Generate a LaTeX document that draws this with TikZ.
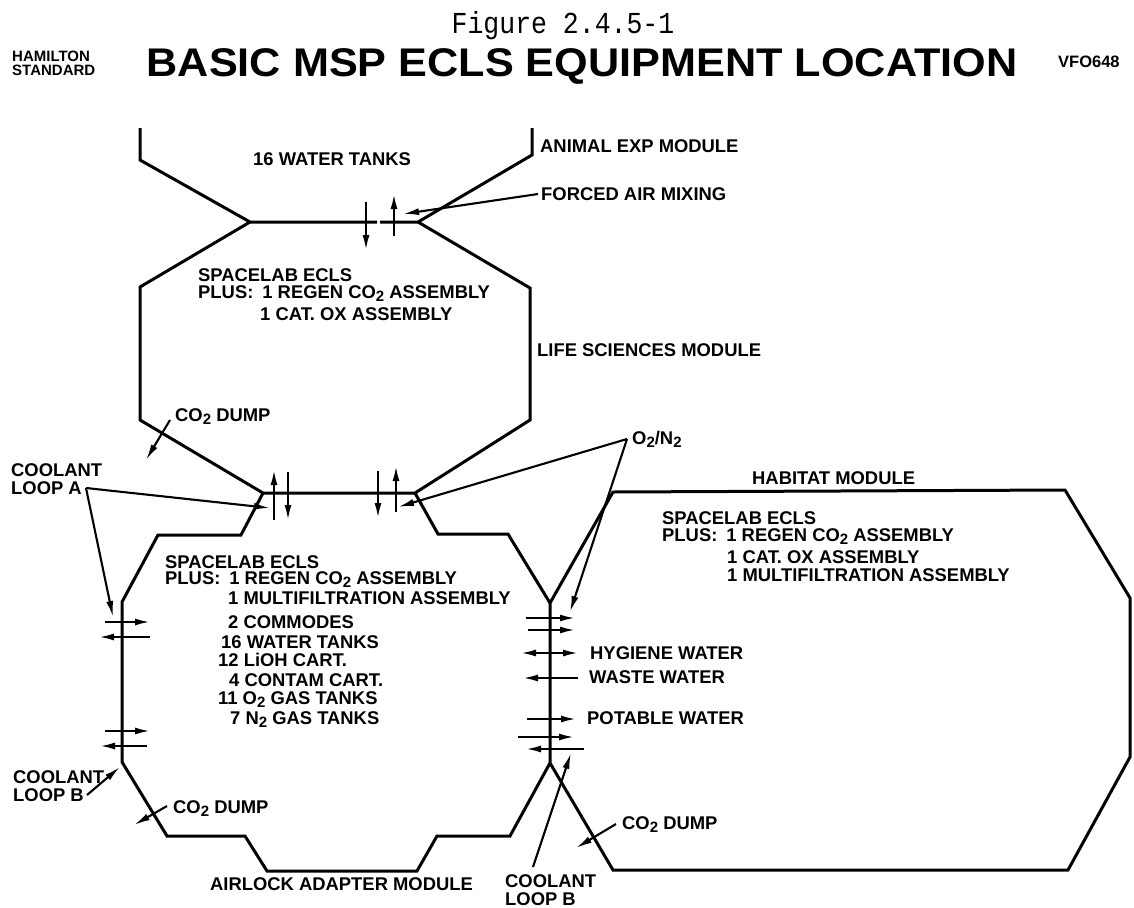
\documentclass[tikz,border=0pt]{standalone}
\usepackage{fontspec}
\setmainfont{Liberation Sans}
\newfontfamily\monof{Liberation Mono}
\usetikzlibrary{arrows.meta}
\tikzset{
 wall/.style={line width=3pt,line join=miter},
 lead/.style={line width=2.1pt,-{Latex[length=16pt,width=7pt]}},
 flow/.style={line width=2.1pt,-{Latex[length=15pt,width=7pt]}},
 both/.style={line width=2.1pt,{Latex[length=15pt,width=7pt]}-{Latex[length=15pt,width=7pt]}},
 lab/.style={font=\fontsize{18.4}{18}\selectfont\bfseries,anchor=west,inner sep=0pt}
}
\newcommand{\sbs}[1]{\raisebox{-3pt}{\fontsize{15}{15}\selectfont #1}}
\begin{document}
\begin{tikzpicture}[x=1pt,y=-1pt]
\useasboundingbox (0,0) rectangle (1134,907);
\fill[white] (0,0) rectangle (1134,907);
% titles
\node[font=\monof\fontsize{26.5}{30}\selectfont,inner sep=0pt] (fig) at (563,26) {\scalebox{1}[1.15]{Figure 2.4.5-1}};
\node[font=\fontsize{40}{42}\selectfont\bfseries,inner sep=0pt] (title) at (582,66) {\scalebox{1.08}[1]{BASIC MSP ECLS EQUIPMENT LOCATION}};
\node[font=\fontsize{15}{15}\selectfont\bfseries,align=left,inner sep=0pt,anchor=west] (ham) at (12,63) {HAMILTON\\[-1pt]STANDARD};
\node[font=\fontsize{16.5}{16}\selectfont\bfseries,inner sep=0pt,anchor=west] (vfo) at (1058,62) {VFO648};
% module outlines
\draw[wall] (140,128) -- (140,160) -- (250,222) -- (377,222);
\draw[wall] (380,222) -- (418,222) -- (532,155) -- (532,128);
\draw[wall] (250,222) -- (140,287) -- (140,420) -- (263,493) -- (415,493) -- (530,420) -- (530,288) -- (418,222);
\draw[wall] (263,493) -- (241,535) -- (158,535) -- (122,602) -- (122,762) -- (167,836) -- (245,836) -- (267,871) -- (417,871) -- (437,836) -- (510,836) -- (550,763);
\draw[wall] (415,493) -- (438,534) -- (508,534) -- (550,603) -- (550,763) -- (613,870) -- (1068,870) -- (1130,757) -- (1130,598) -- (1065,490) -- (613,492) -- (550,603);
% labels
\node[lab] (tanks) at (253,159) {16 WATER TANKS};
\node[lab] (animal) at (540,146) {ANIMAL EXP MODULE};
\node[lab] (forced) at (541,194) {FORCED AIR MIXING};
\node[lab] (life) at (537,350) {LIFE SCIENCES MODULE};
\node[lab] (u1) at (198,275) {SPACELAB ECLS};
\node[lab] (u2) at (198,294) {PLUS:\hspace{9pt}1 REGEN CO\sbs{2} ASSEMBLY};
\node[lab] (u3) at (260,314) {1 CAT. OX ASSEMBLY};
\node[lab] (dumpu) at (175,417) {CO\sbs{2} DUMP};
\node[lab] (o2) at (632,439) {O\sbs{2}/N\sbs{2}};
\node[lab] (hab) at (752,478) {HABITAT MODULE};
\node[lab] (r1) at (662,518) {SPACELAB ECLS};
\node[lab] (r2) at (662,537) {PLUS:\hspace{9pt}1 REGEN CO\sbs{2} ASSEMBLY};
\node[lab] (r3) at (727,557) {1 CAT. OX ASSEMBLY};
\node[lab] (r4) at (727,575) {1 MULTIFILTRATION ASSEMBLY};
\node[lab,align=left] (cla) at (11,479) {COOLANT\\LOOP A};
\node[lab] (l1) at (165,562) {SPACELAB ECLS};
\node[lab] (l2) at (165,580) {PLUS:\hspace{9pt}1 REGEN CO\sbs{2} ASSEMBLY};
\node[lab] (l3) at (228,598) {1 MULTIFILTRATION ASSEMBLY};
\node[lab] (l4) at (228,622) {2 COMMODES};
\node[lab] (l5) at (221,642) {16 WATER TANKS};
\node[lab] (l6) at (218,660) {12 LiOH CART.};
\node[lab] (l7) at (229,680) {4 CONTAM CART.};
\node[lab] (l8) at (218,700) {11 O\sbs{2} GAS TANKS};
\node[lab] (l9) at (230,720) {7 N\sbs{2} GAS TANKS};
\node[lab] (hyg) at (590,653) {HYGIENE WATER};
\node[lab] (waste) at (589,677) {WASTE WATER};
\node[lab] (pot) at (587,718) {POTABLE WATER};
\node[lab] (dumpr) at (622,825) {CO\sbs{2} DUMP};
\node[lab,align=left] (clbr) at (505,890) {COOLANT\\LOOP B};
\node[lab,align=left] (clbl) at (13,786) {COOLANT\\LOOP B};
\node[lab] (dumpl) at (173,809) {CO\sbs{2} DUMP};
\node[lab] (air) at (210,884) {AIRLOCK ADAPTER MODULE};
% free ends of connectors
\coordinate (fa) at (538,194); \coordinate (fat) at (403,214);
\coordinate (da) at (170,420); \coordinate (dat) at (146,460);
\coordinate (ca) at (86,488); \coordinate (cat1) at (270,508); \coordinate (cat2) at (113,617);
\coordinate (oa) at (627,439); \coordinate (oat1) at (398,507); \coordinate (oat2) at (570,612);
\coordinate (cb) at (533,867); \coordinate (cbt) at (571,753);
\coordinate (drs) at (616,824); \coordinate (drt) at (576,848);
\coordinate (dls) at (167,806); \coordinate (dlt) at (134,825);
\coordinate (cls) at (87,795); \coordinate (clt) at (120,767);
% vertical passage flows
\draw[flow] (366,202) -- (366,250);
\draw[flow] (394,236) -- (394,194);
\draw[flow] (274,520) -- (274,470);
\draw[flow] (288,472) -- (288,520);
\draw[flow] (378,471) -- (378,518);
\draw[flow] (396,512) -- (396,466);
% horizontal passage flows, left wall
\draw[flow] (105,622) -- (150,622);
\draw[flow] (150,637) -- (99,637);
\draw[flow] (105,731) -- (150,731);
\draw[flow] (147,746) -- (100,746);
% horizontal passage flows, right wall
\draw[flow] (526,618) -- (575,618);
\draw[flow] (528,630) -- (575,630);
\draw[both] (521,653) -- (578,653);
\draw[flow] (578,678) -- (523,678);
\draw[flow] (527,719) -- (576,719);
\draw[flow] (518,737) -- (574,737);
\draw[flow] (584,749) -- (526,749);
% leader lines
\draw[lead] (fa) -- (fat);
\draw[lead] (da) -- (dat);
\draw[lead] (ca) -- (cat1);
\draw[lead] (ca) -- (cat2);
\draw[lead] (oa) -- (oat1);
\draw[lead] (oa) -- (oat2);
\draw[lead] (cb) -- (cbt);
\draw[lead] (drs) -- (drt);
\draw[lead] (dls) -- (dlt);
\draw[lead] (cls) -- (clt);
\end{tikzpicture}
\end{document}
